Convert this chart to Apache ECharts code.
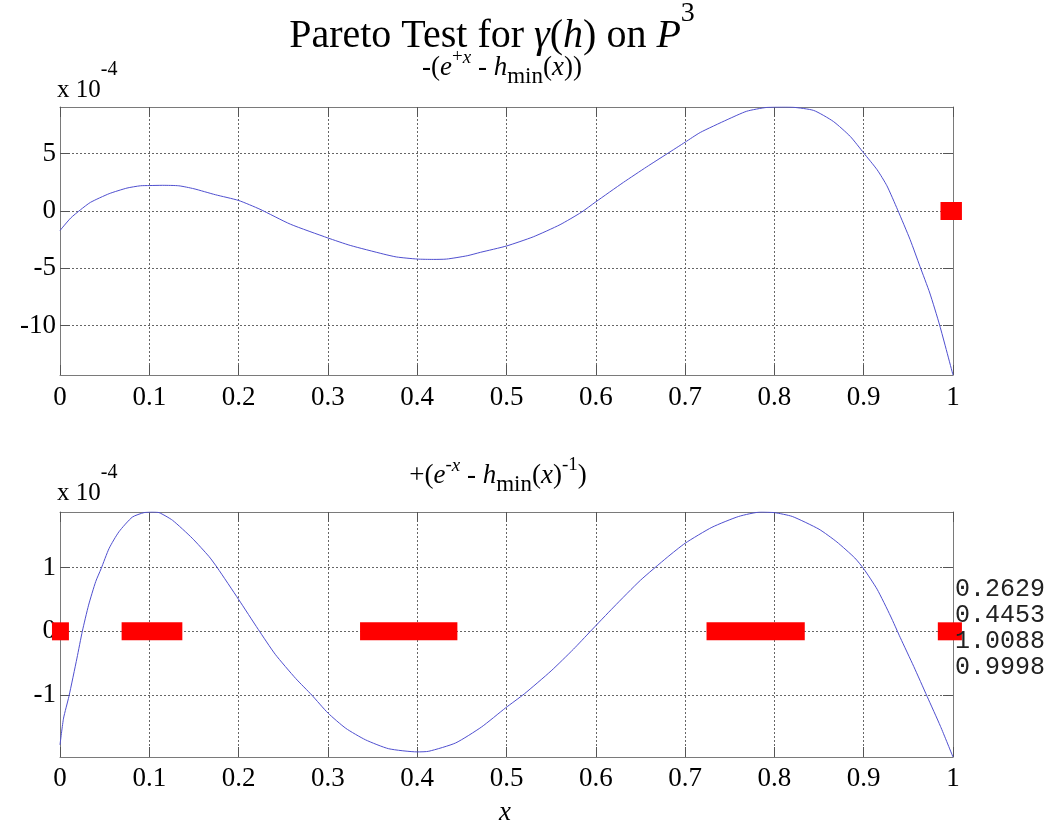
<!DOCTYPE html>
<html><head><meta charset="utf-8">
<script src="https://cdn.jsdelivr.net/npm/echarts@6/dist/echarts.min.js"></script>
<style>html,body{margin:0;padding:0;background:#fff}#c{width:1057px;height:829px}</style>
</head><body><div id="c"></div>
<script>
// ---- data (values in units of 1e-4) ----
const xTicks = [0, 0.1, 0.2, 0.3, 0.4, 0.5, 0.6, 0.7, 0.8, 0.9, 1];
const topYTicks = [-10, -5, 0, 5];
const botYTicks = [-1, 0, 1];

const topX = [0, 0.012, 0.023, 0.034, 0.055, 0.075, 0.09, 0.1, 0.115, 0.133, 0.15, 0.174, 0.2, 0.224, 0.258, 0.3, 0.325, 0.362, 0.377, 0.4, 0.418, 0.433, 0.456, 0.471, 0.5, 0.53, 0.56, 0.584, 0.6, 0.631, 0.657, 0.68, 0.7, 0.717, 0.747, 0.769, 0.791, 0.81, 0.821, 0.844, 0.866, 0.885, 0.9, 0.915, 0.926, 0.938, 0.952, 0.963, 0.974, 0.985, 1.0];
const topY = [-1.7, -0.61, 0.11, 0.75, 1.51, 2.0, 2.2, 2.22, 2.24, 2.2, 1.94, 1.42, 0.92, 0.15, -1.15, -2.35, -3.0, -3.75, -4.01, -4.19, -4.22, -4.19, -3.9, -3.6, -3.05, -2.25, -1.19, -0.1, 0.8, 2.5, 3.85, 5.0, 6.0, 6.85, 7.96, 8.7, 9.03, 9.07, 9.05, 8.77, 7.81, 6.5, 5.06, 3.6, 2.2, 0.1, -2.5, -4.83, -7.15, -9.94, -14.3];

const botX = [0, 0.004, 0.01, 0.019, 0.025, 0.032, 0.04, 0.046, 0.055, 0.066, 0.081, 0.094, 0.103, 0.111, 0.126, 0.148, 0.167, 0.176, 0.2, 0.222, 0.241, 0.264, 0.282, 0.3, 0.32, 0.342, 0.368, 0.4, 0.413, 0.443, 0.472, 0.499, 0.52, 0.55, 0.575, 0.594, 0.62, 0.65, 0.68, 0.7, 0.73, 0.76, 0.785, 0.8, 0.82, 0.85, 0.87, 0.89, 0.9, 0.915, 0.93, 0.941, 0.956, 0.971, 0.986, 1.0];
const botY = [-1.78, -1.36, -1.02, -0.42, 0, 0.41, 0.78, 0.98, 1.3, 1.56, 1.79, 1.86, 1.87, 1.86, 1.74, 1.46, 1.17, 1.0, 0.5, 0.03, -0.36, -0.74, -1.0, -1.28, -1.52, -1.7, -1.84, -1.89, -1.88, -1.75, -1.5, -1.2, -0.98, -0.62, -0.28, 0, 0.38, 0.8, 1.16, 1.38, 1.63, 1.8, 1.87, 1.86, 1.8, 1.6, 1.4, 1.15, 0.98, 0.66, 0.24, -0.1, -0.55, -1.02, -1.49, -1.97];

const topBars = [[0.986, 1.010]];
const botBars = [[-0.009, 0.010], [0.069, 0.137], [0.336, 0.445], [0.724, 0.834], [0.983, 1.010]];
const sideValues = ['0.2629', '0.4453', '1.0088', '0.9998'];

// ---- chart ----
const SERIF = 'Liberation Serif';
const zip = (a, b) => a.map((v, i) => [v, b[i]]);
const topMin = Math.min(...topY), topMax = Math.max(...topY);
const botMin = Math.min(...botY), botMax = Math.max(...botY);

const frame = {show: true, onZero: false, lineStyle: {color: '#7a7a7a', width: 1}};
const tick = {show: true, inside: true, length: 10, lineStyle: {color: '#555'}};
const grid = {show: true, lineStyle: {color: '#666', type: [2, 2], width: 1}};
const lab = {fontFamily: SERIF, fontSize: 27, color: '#000'};

function xAxes(g, margin) {
  return [
    {gridIndex: g, type: 'value', min: 0, max: 1, interval: 0.1, position: 'bottom',
     axisLine: frame, axisTick: tick, splitLine: grid,
     axisLabel: Object.assign({margin: margin, formatter: v => String(+v.toFixed(1))}, lab)},
    {gridIndex: g, type: 'value', min: 0, max: 1, interval: 0.1, position: 'top',
     axisLine: frame, axisTick: tick, splitLine: {show: false}, axisLabel: {show: false}}
  ];
}
function yAxes(g, mn, mx, ticks) {
  return [
    {gridIndex: g, type: 'value', min: mn, max: mx, position: 'left',
     axisLine: frame, axisTick: Object.assign({customValues: ticks}, tick), splitLine: grid,
     axisLabel: Object.assign({margin: 4, customValues: ticks}, lab)},
    {gridIndex: g, type: 'value', min: mn, max: mx, position: 'right',
     axisLine: frame, axisTick: Object.assign({customValues: ticks}, tick),
     splitLine: {show: false}, axisLabel: {show: false}}
  ];
}
function bars(ranges, xi, yi) {
  return {
    type: 'custom', xAxisIndex: xi, yAxisIndex: yi, clip: false, z: 5,
    data: ranges.map(r => [r[0], r[1], 0]),
    encode: {x: [0, 1], y: 2},
    renderItem: (params, api) => {
      const a = api.coord([api.value(0), api.value(2)]);
      const b = api.coord([api.value(1), api.value(2)]);
      return {type: 'rect', shape: {x: a[0], y: a[1] - 9, width: b[0] - a[0], height: 18},
              style: {fill: '#ff0000'}};
    }
  };
}
const lineStyle = {color: '#4f4fcf', width: 1};

const R = (fs, lh) => ({
  n: {fontFamily: SERIF, fontSize: fs, lineHeight: lh, color: '#000'},
  i: {fontFamily: SERIF, fontSize: fs, lineHeight: lh, fontStyle: 'italic', color: '#000'}
});

const titleRich = Object.assign(R(40, 72), {
  s: {fontFamily: SERIF, fontSize: 28, lineHeight: 28, verticalAlign: 'top', color: '#000'}
});
const sub1Rich = Object.assign(R(27, 40), {
  sp: {fontFamily: SERIF, fontSize: 19, lineHeight: 26, verticalAlign: 'top', color: '#000'},
  spi: {fontFamily: SERIF, fontSize: 19, lineHeight: 26, verticalAlign: 'top', fontStyle: 'italic', color: '#000'},
  sb: {fontFamily: SERIF, fontSize: 23, lineHeight: 24, verticalAlign: 'bottom', color: '#000'}
});
const expRich = Object.assign(R(25, 60), {
  sp: {fontFamily: SERIF, fontSize: 20, lineHeight: 14, verticalAlign: 'top', color: '#000'}
});

const option = {
  backgroundColor: '#fff',
  animation: false,
  grid: [
    {left: 60, top: 107, width: 893, height: 268},
    {left: 60, top: 512, width: 893, height: 245}
  ],
  xAxis: [...xAxes(0, 9), ...xAxes(1, 8)],
  yAxis: [...yAxes(0, topMin, topMax, topYTicks), ...yAxes(1, botMin, botMax, botYTicks)],
  series: [
    {type: 'line', xAxisIndex: 0, yAxisIndex: 0, data: zip(topX, topY), showSymbol: false,
     smooth: 0.2, lineStyle: lineStyle, z: 3},
    {type: 'line', xAxisIndex: 2, yAxisIndex: 2, data: zip(botX, botY), showSymbol: false,
     smooth: 0.2, lineStyle: lineStyle, z: 3},
    bars(topBars, 0, 0),
    bars(botBars, 2, 2)
  ],
  graphic: [
    {type: 'text', x: 492, y: 36, z: 10, style: {
      text: '{n|Pareto Test for }{i|γ}{n|(}{i|h}{n|) on }{i|P}{s|3}', rich: titleRich,
      align: 'center', verticalAlign: 'middle'}},
    {type: 'text', x: 502, y: 68, z: 11, style: {
      text: '{n|-(}{i|e}{sp|+}{spi|x}{n| - }{i|h}{sb|min}{n|(}{i|x}{n|))}', rich: sub1Rich,
      align: 'center', verticalAlign: 'middle'}},
    {type: 'text', x: 498, y: 476, z: 10, style: {
      text: '{n|+(}{i|e}{sp|-}{spi|x}{n| - }{i|h}{sb|min}{n|(}{i|x}{n|)}{sp|-1}{n|)}', rich: sub1Rich,
      align: 'center', verticalAlign: 'middle'}},
    {type: 'text', x: 57, y: 90, z: 10, style: {
      text: '{n|x 10}{sp|-4}', rich: expRich, align: 'left', verticalAlign: 'middle'}},
    {type: 'text', x: 57, y: 493, z: 10, style: {
      text: '{n|x 10}{sp|-4}', rich: expRich, align: 'left', verticalAlign: 'middle'}},
    {type: 'text', x: 505, y: 813, z: 10, style: {
      text: 'x', font: 'italic 27px "Liberation Serif"', fill: '#000',
      align: 'center', verticalAlign: 'middle'}},
    {type: 'text', x: 955, y: 576, z: 10, style: {
      text: sideValues.join('\n'), font: '25px "Liberation Mono"', lineHeight: 26, fill: '#222',
      align: 'left', verticalAlign: 'top'}}
  ]
};

const chart = echarts.init(document.getElementById('c'), null, {renderer: 'canvas'});
chart.setOption(option);
</script>
</body></html>
